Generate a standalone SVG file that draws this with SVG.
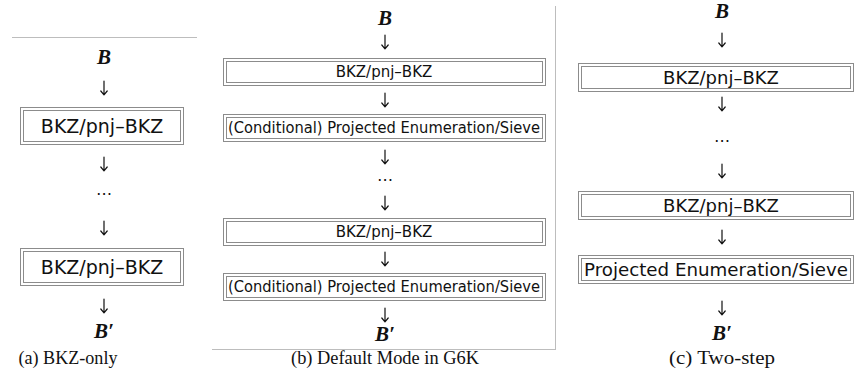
<svg xmlns="http://www.w3.org/2000/svg" xmlns:xlink="http://www.w3.org/1999/xlink" width="854" height="390" viewBox="0 0 854 390">
  <style>
    .bg { fill: #ffffff; }
    .rule { stroke: #bdbdbd; stroke-width: 1; fill: none; }
    .outer { fill: #ffffff; stroke: #8c8c8c; stroke-width: 1; }
    .inner { fill: none; stroke: #8c8c8c; stroke-width: 1; }
    .lbl { font-family: "DejaVu Sans", "Liberation Sans", sans-serif; fill: #111; text-anchor: middle; dominant-baseline: central; }
    .vec { font-family: "Liberation Serif", "DejaVu Serif", serif; font-weight: bold; font-style: italic; font-size: 21px; fill: #111; text-anchor: middle; dominant-baseline: central; }
    .dots { font-family: "DejaVu Sans", sans-serif; font-size: 16px; fill: #111; text-anchor: middle; dominant-baseline: central; }
    .cap { font-family: "Liberation Serif", "DejaVu Serif", serif; font-size: 19px; fill: #111; text-anchor: middle; dominant-baseline: central; }
    .dn { fill: none; stroke: #111; stroke-width: 1.2; stroke-linecap: round; stroke-linejoin: round; }
  </style>
  <defs>
    <!-- small down arrow, centred on the origin -->
    <path id="dn" class="dn" d="M0,-7 V6.5 M-3.2,3 L0,6.8 L3.2,3"/>
  </defs>

  <rect class="bg" x="0" y="0" width="854" height="390"/>

  <!-- panel frames -->
  <g id="rules">
    <line class="rule" x1="12" y1="37.5" x2="197" y2="37.5"/>
    <line class="rule" x1="555.5" y1="6" x2="555.5" y2="349"/>
    <line class="rule" x1="212" y1="349.5" x2="556" y2="349.5"/>
  </g>

  <!-- (a) BKZ-only -->
  <g id="a-in"><text class="vec" x="104" y="57">B</text></g>
  <g id="a-bkz1">
    <rect class="outer" x="20.5" y="107.5" width="163" height="37"/>
    <rect class="inner" x="23.5" y="110.5" width="157" height="31"/>
    <text class="lbl" x="102" y="126" font-size="19">BKZ/pnj–BKZ</text>
  </g>
  <g id="a-dots"><text class="dots" x="104" y="193">⋯</text></g>
  <g id="a-bkz2">
    <rect class="outer" x="20.5" y="248.5" width="163" height="37"/>
    <rect class="inner" x="23.5" y="251.5" width="157" height="31"/>
    <text class="lbl" x="102" y="267" font-size="19">BKZ/pnj–BKZ</text>
  </g>
  <g id="a-out"><text class="vec" x="104" y="331">B′</text></g>
  <text class="cap" x="68" y="357" textLength="99" lengthAdjust="spacingAndGlyphs">(a) BKZ-only</text>

  <!-- (b) Default Mode in G6K -->
  <g id="b-in"><text class="vec" x="385" y="18">B</text></g>
  <g id="b-bkz1">
    <rect class="outer" x="223.5" y="58.5" width="322" height="27"/>
    <rect class="inner" x="226.5" y="61.5" width="316" height="21"/>
    <text class="lbl" x="384" y="72" font-size="15">BKZ/pnj–BKZ</text>
  </g>
  <g id="b-pe1">
    <rect class="outer" x="223.5" y="114.5" width="322" height="27"/>
    <rect class="inner" x="226.5" y="117.5" width="316" height="21"/>
    <text class="lbl" x="384" y="128" font-size="15" textLength="312" lengthAdjust="spacingAndGlyphs">(Conditional) Projected Enumeration/Sieve</text>
  </g>
  <g id="b-dots"><text class="dots" x="385" y="179">⋯</text></g>
  <g id="b-bkz2">
    <rect class="outer" x="223.5" y="218.5" width="322" height="27"/>
    <rect class="inner" x="226.5" y="221.5" width="316" height="21"/>
    <text class="lbl" x="384" y="232" font-size="15">BKZ/pnj–BKZ</text>
  </g>
  <g id="b-pe2">
    <rect class="outer" x="223.5" y="273.5" width="322" height="27"/>
    <rect class="inner" x="226.5" y="276.5" width="316" height="21"/>
    <text class="lbl" x="384" y="287" font-size="15" textLength="312" lengthAdjust="spacingAndGlyphs">(Conditional) Projected Enumeration/Sieve</text>
  </g>
  <g id="b-out"><text class="vec" x="385" y="334">B′</text></g>
  <text class="cap" x="385" y="357" textLength="188" lengthAdjust="spacingAndGlyphs">(b) Default Mode in G6K</text>

  <!-- (c) Two-step -->
  <g id="c-in"><text class="vec" x="722" y="11">B</text></g>
  <g id="c-bkz1">
    <rect class="outer" x="578.5" y="63.5" width="275" height="28"/>
    <rect class="inner" x="581.5" y="66.5" width="269" height="22"/>
    <text class="lbl" x="721" y="77.5" font-size="18">BKZ/pnj–BKZ</text>
  </g>
  <g id="c-dots"><text class="dots" x="722" y="140">⋯</text></g>
  <g id="c-bkz2">
    <rect class="outer" x="578.5" y="191.5" width="275" height="28"/>
    <rect class="inner" x="581.5" y="194.5" width="269" height="22"/>
    <text class="lbl" x="721" y="205.5" font-size="18">BKZ/pnj–BKZ</text>
  </g>
  <g id="c-pe">
    <rect class="outer" x="578.5" y="255.5" width="275" height="28"/>
    <rect class="inner" x="581.5" y="258.5" width="269" height="22"/>
    <text class="lbl" x="716" y="269.5" font-size="18" textLength="264" lengthAdjust="spacingAndGlyphs">Projected Enumeration/Sieve</text>
  </g>
  <g id="c-out"><text class="vec" x="722" y="333">B′</text></g>
  <text class="cap" x="722" y="357" textLength="106" lengthAdjust="spacingAndGlyphs">(c) Two-step</text>

  <!-- connectors: downward arrows between stages -->
  <g id="connectors">
    <use xlink:href="#dn" x="104" y="88"/>
    <use xlink:href="#dn" x="104" y="164"/>
    <use xlink:href="#dn" x="104" y="228"/>
    <use xlink:href="#dn" x="104" y="306"/>

    <use xlink:href="#dn" x="385" y="42"/>
    <use xlink:href="#dn" x="385" y="100"/>
    <use xlink:href="#dn" x="385" y="157"/>
    <use xlink:href="#dn" x="385" y="203"/>
    <use xlink:href="#dn" x="385" y="259"/>
    <use xlink:href="#dn" x="385" y="315"/>

    <use xlink:href="#dn" x="722" y="40"/>
    <use xlink:href="#dn" x="722" y="104"/>
    <use xlink:href="#dn" x="722" y="171"/>
    <use xlink:href="#dn" x="722" y="237"/>
    <use xlink:href="#dn" x="722" y="308"/>
  </g>
</svg>
